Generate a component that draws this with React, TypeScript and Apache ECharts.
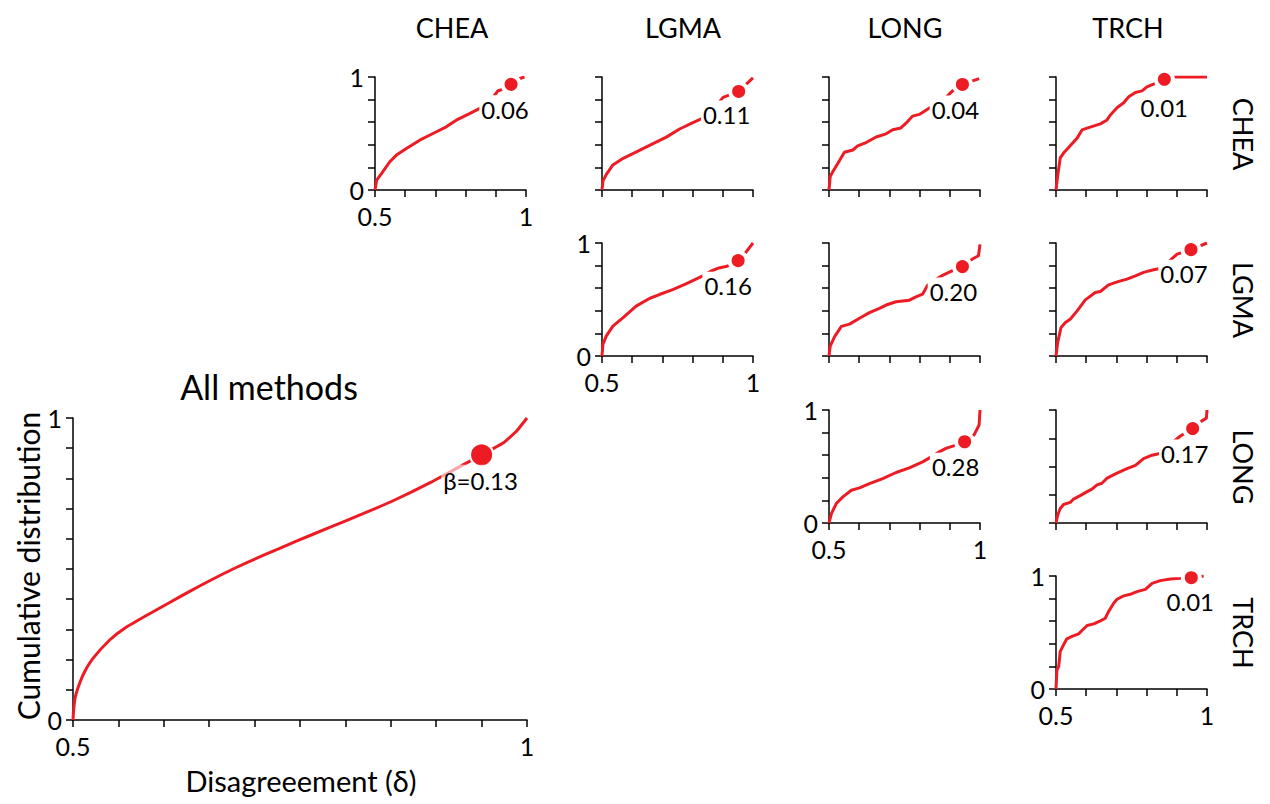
import React, { useEffect, useRef } from "react";
import * as echarts from "echarts";

// ---------- data ----------
const METHODS = ["CHEA", "LGMA", "LONG", "TRCH"];

const ALL_METHODS_CURVE: number[][] = [
  [0.5, 0], [0.5007, 0.033], [0.5026, 0.077], [0.5073, 0.122], [0.5128, 0.16], [0.522, 0.204],
  [0.5404, 0.265], [0.5569, 0.304], [0.5808, 0.346], [0.6065, 0.389], [0.6285, 0.426], [0.6505, 0.461],
  [0.6762, 0.5], [0.7093, 0.545], [0.746, 0.592], [0.7827, 0.638], [0.8194, 0.683], [0.8561, 0.731],
  [0.8928, 0.785], [0.9295, 0.845], [0.95, 0.878], [0.9736, 0.917], [0.9883, 0.956], [1, 1],
];
const ALL_METHODS_DOT = [0.95, 0.878];
const ALL_METHODS_BETA = "β=0.13";

const CHEA_CHEA: number[][] = [
  [0.5, 0], [0.5055, 0.088], [0.522, 0.147], [0.549, 0.25], [0.571, 0.309], [0.604, 0.368],
  [0.648, 0.441], [0.692, 0.5], [0.736, 0.559], [0.769, 0.618], [0.813, 0.676], [0.857, 0.735],
  [0.885, 0.8], [0.9066, 0.876], [0.9286, 0.897], [0.9505, 0.935], [0.972, 0.98], [0.995, 1.0],
];
const CHEA_LGMA: number[][] = [
  [0.5, 0], [0.503, 0.078], [0.514, 0.136], [0.536, 0.222], [0.57, 0.28], [0.614, 0.338],
  [0.669, 0.41], [0.713, 0.468], [0.757, 0.54], [0.801, 0.597], [0.834, 0.635], [0.87, 0.72],
  [0.901, 0.82], [0.9525, 0.872], [0.975, 0.93], [1, 0.993],
];
const CHEA_LONG: number[][] = [
  [0.5, 0], [0.504, 0.12], [0.513, 0.163], [0.529, 0.234], [0.551, 0.334], [0.579, 0.354],
  [0.595, 0.391], [0.623, 0.42], [0.656, 0.469], [0.689, 0.497], [0.711, 0.534], [0.738, 0.549],
  [0.755, 0.591], [0.777, 0.654], [0.799, 0.669], [0.821, 0.706], [0.843, 0.743], [0.88, 0.8],
  [0.909, 0.877], [0.9418, 0.934], [0.997, 0.986],
];
const CHEA_TRCH: number[][] = [
  [0.5, 0], [0.5055, 0.123], [0.514, 0.284], [0.525, 0.327], [0.547, 0.392], [0.57, 0.459],
  [0.586, 0.532], [0.603, 0.547], [0.647, 0.585], [0.669, 0.62], [0.68, 0.664], [0.702, 0.728],
  [0.724, 0.772], [0.741, 0.825], [0.763, 0.863], [0.785, 0.877], [0.801, 0.912], [0.823, 0.936],
  [0.8587, 0.98], [0.89, 1], [1, 1],
];
const LGMA_LGMA: number[][] = [
  [0.5, 0], [0.503, 0.103], [0.514, 0.176], [0.536, 0.265], [0.569, 0.338], [0.613, 0.441],
  [0.657, 0.509], [0.69, 0.544], [0.734, 0.588], [0.778, 0.638], [0.832, 0.706], [0.86, 0.75],
  [0.887, 0.779], [0.914, 0.794], [0.9507, 0.844], [0.975, 0.912], [1, 1],
];
const LGMA_LONG: number[][] = [
  [0.5, 0], [0.504, 0.087], [0.519, 0.174], [0.541, 0.262], [0.568, 0.282], [0.601, 0.334],
  [0.634, 0.384], [0.667, 0.422], [0.689, 0.451], [0.722, 0.48], [0.766, 0.494], [0.788, 0.523],
  [0.81, 0.547], [0.826, 0.625], [0.855, 0.68], [0.881, 0.721], [0.909, 0.756], [0.9418, 0.791],
  [0.975, 0.858], [0.995, 0.887], [1, 0.988],
];
const LGMA_TRCH: number[][] = [
  [0.5, 0], [0.5055, 0.118], [0.5166, 0.251], [0.531, 0.296], [0.547, 0.325], [0.57, 0.399],
  [0.597, 0.497], [0.63, 0.562], [0.647, 0.571], [0.674, 0.63], [0.708, 0.66], [0.735, 0.68],
  [0.763, 0.71], [0.79, 0.74], [0.823, 0.763], [0.845, 0.775], [0.875, 0.84], [0.901, 0.902],
  [0.947, 0.941], [1, 1],
];
const LONG_LONG: number[][] = [
  [0.5, 0], [0.508, 0.083], [0.524, 0.172], [0.546, 0.231], [0.574, 0.29], [0.601, 0.311],
  [0.634, 0.349], [0.678, 0.393], [0.722, 0.447], [0.766, 0.488], [0.81, 0.541], [0.843, 0.592],
  [0.865, 0.63], [0.887, 0.66], [0.92, 0.689], [0.949, 0.719], [0.98, 0.778], [0.997, 0.867], [1, 1],
];
const LONG_TRCH: number[][] = [
  [0.5, 0], [0.5055, 0.069], [0.514, 0.128], [0.525, 0.164], [0.547, 0.182], [0.558, 0.212],
  [0.58, 0.242], [0.603, 0.278], [0.619, 0.299], [0.636, 0.337], [0.652, 0.352], [0.669, 0.397],
  [0.702, 0.442], [0.735, 0.481], [0.763, 0.51], [0.79, 0.57], [0.818, 0.6], [0.84, 0.612],
  [0.88, 0.7], [0.912, 0.77], [0.9525, 0.836], [0.983, 0.904], [0.998, 0.928], [1, 1],
];
const TRCH_TRCH: number[][] = [
  [0.5, 0], [0.503, 0.171], [0.509, 0.2], [0.514, 0.332], [0.525, 0.391], [0.536, 0.444],
  [0.553, 0.465], [0.575, 0.488], [0.586, 0.518], [0.603, 0.562], [0.625, 0.576], [0.647, 0.603],
  [0.663, 0.626], [0.674, 0.685], [0.691, 0.759], [0.702, 0.794], [0.724, 0.824], [0.746, 0.838],
  [0.768, 0.862], [0.796, 0.882], [0.818, 0.935], [0.845, 0.959], [0.879, 0.974], [0.912, 0.979],
  [0.948, 0.985], [0.989, 1.0],
];

// dot positions (δ, cumulative) and β values, per pair [row method, column method]
const PAIR_ROWS = [0, 0, 0, 0, 1, 1, 1, 2, 2, 3];
const PAIR_COLS = [0, 1, 2, 3, 1, 2, 3, 2, 3, 3];
const PAIR_CURVES = [CHEA_CHEA, CHEA_LGMA, CHEA_LONG, CHEA_TRCH, LGMA_LGMA, LGMA_LONG, LGMA_TRCH, LONG_LONG, LONG_TRCH, TRCH_TRCH];
const PAIR_DOT_X = [0.9505, 0.9525, 0.9418, 0.8587, 0.9507, 0.9418, 0.947, 0.949, 0.9525, 0.948];
const PAIR_DOT_Y = [0.935, 0.872, 0.934, 0.98, 0.844, 0.791, 0.941, 0.719, 0.836, 0.985];
const PAIR_BETA = ["0.06", "0.11", "0.04", "0.01", "0.16", "0.20", "0.07", "0.28", "0.17", "0.01"];
const PAIR_Y_INTERVAL = [0.2, 0.2, 0.2, 0.2, 0.2, 0.2, 0.2, 0.2, 0.25, 0.2];

// ---------- layout / style ----------
const RED = "#ED1C24";
const FONT = "Lato";
const COL_LEFT = [375, 602, 829, 1056];
const ROW_TOP = [77, 243, 410, 576];
const PW = 151;
const PH = 113;
const LABEL_OFFSET = [[-6, 25], [-12, 23], [-7, 25], [0, 28], [-10, 25], [-9, 25], [-7, 24], [-9, 25], [-8, 25], [-1, 24]];
const COL_TITLE_X = [452, 683, 905, 1128];
const ROW_TITLE_Y = [134, 300, 467, 633];

const near = (a: number, b: number) => Math.abs(a - b) < 1e-6;

function axisCommon() {
  return {
    axisLine: { show: true, onZero: false, lineStyle: { color: "#000", width: 1.5 } },
    axisTick: { show: true, length: 7, lineStyle: { color: "#000", width: 1.5 } },
    splitLine: { show: false },
  };
}

function buildOption() {
  const grid: any[] = [];
  const xAxis: any[] = [];
  const yAxis: any[] = [];
  const series: any[] = [];

  const addPanel = (
    box: { left: number; top: number; width: number; height: number },
    curve: number[][],
    dot: number[],
    label: string,
    xInt: number,
    yInt: number,
    showLabels: boolean,
    big: boolean,
    offset: number[]
  ) => {
    const i = grid.length;
    grid.push({ ...box, containLabel: false });
    xAxis.push({
      type: "value",
      gridIndex: i,
      min: 0.5,
      max: 1,
      interval: xInt,
      ...axisCommon(),
      axisLabel: {
        show: showLabels,
        showMinLabel: true,
        showMaxLabel: true,
        margin: 13,
        fontFamily: FONT,
        fontSize: 25,
        color: "#000",
        formatter: (v: number) => (near(v, 0.5) ? "0.5" : near(v, 1) ? "1" : ""),
      },
    });
    yAxis.push({
      type: "value",
      gridIndex: i,
      min: 0,
      max: 1,
      interval: yInt,
      ...axisCommon(),
      axisLabel: {
        show: showLabels,
        showMinLabel: true,
        showMaxLabel: true,
        margin: 11,
        fontFamily: FONT,
        fontSize: 25,
        color: "#000",
        formatter: (v: number) => (near(v, 0) ? "0" : near(v, 1) ? "1" : ""),
      },
    });
    series.push({
      type: "line",
      xAxisIndex: i,
      yAxisIndex: i,
      data: curve,
      symbol: "none",
      showSymbol: false,
      smooth: big ? 0.15 : false,
      silent: true,
      lineStyle: { color: RED, width: 3 },
      z: 2,
    });
    series.push({
      type: "scatter",
      xAxisIndex: i,
      yAxisIndex: i,
      data: [dot],
      symbolSize: big ? 23 : 17,
      silent: true,
      itemStyle: { color: RED, borderColor: "#fff", borderWidth: big ? 2 : 4, opacity: 1 },
      label: {
        show: true,
        formatter: label,
        position: "inside",
        offset,
        fontFamily: FONT,
        fontSize: 24,
        color: "#000",
        textBorderWidth: 0,
        backgroundColor: big ? "rgba(255,255,255,0.6)" : "#fff",
        padding: big ? [8, 2, 0, 2] : [4, 2, 0, 2],
      },
      z: 5,
    });
  };

  // big panel
  addPanel({ left: 73, top: 418, width: 454, height: 302 }, ALL_METHODS_CURVE, ALL_METHODS_DOT, ALL_METHODS_BETA, 0.05, 0.1, true, true, [-1, 26]);

  // pairwise panels
  for (let k = 0; k < PAIR_CURVES.length; k++) {
    const r = PAIR_ROWS[k];
    const c = PAIR_COLS[k];
    addPanel(
      { left: COL_LEFT[c], top: ROW_TOP[r], width: PW, height: PH },
      PAIR_CURVES[k],
      [PAIR_DOT_X[k], PAIR_DOT_Y[k]],
      PAIR_BETA[k],
      0.1,
      PAIR_Y_INTERVAL[k],
      r === c,
      false,
      LABEL_OFFSET[k]
    );
  }

  const txt = (text: string, x: number, y: number, size: number, rotation = 0) => ({
    type: "text",
    x,
    y,
    rotation,
    silent: true,
    style: {
      text,
      fontFamily: FONT,
      fontSize: size,
      fill: "#000",
      textAlign: "center",
      textVerticalAlign: "middle",
      align: "center",
      verticalAlign: "middle",
    },
  });

  const graphic: any[] = [];
  METHODS.forEach((m, i) => {
    graphic.push(txt(m, COL_TITLE_X[i], 27, 27));
    graphic.push(txt(m, 1243, ROW_TITLE_Y[i], 27, -Math.PI / 2));
  });
  graphic.push(txt("All methods", 269, 386, 34));
  graphic.push(txt("Cumulative distribution", 28, 566, 30, Math.PI / 2));
  graphic.push(txt("Disagreeement (δ)", 301, 780, 29));

  return {
    animation: false,
    backgroundColor: "#fff",
    grid,
    xAxis,
    yAxis,
    series,
    graphic,
  };
}

export default function App() {
  const ref = useRef<HTMLDivElement>(null);
  useEffect(() => {
    if (!ref.current) return;
    const chart = echarts.init(ref.current, null, { renderer: "svg" });
    chart.setOption(buildOption() as any);
    return () => chart.dispose();
  }, []);
  return (
    <div
      ref={ref}
      style={{ position: "absolute", left: 0, top: 0, width: 1270, height: 804 }}
    />
  );
}
